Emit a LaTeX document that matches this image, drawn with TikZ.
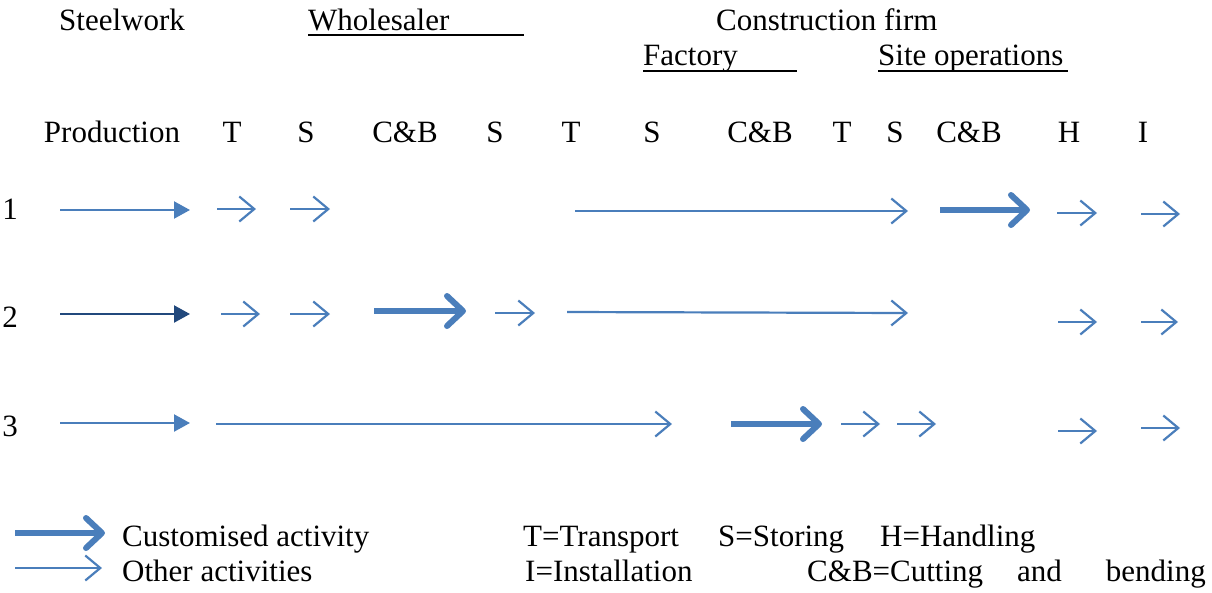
\documentclass[tikz,border=0pt]{standalone}
\usepackage{fontspec}
\setmainfont{Liberation Serif}
\usetikzlibrary{arrows.meta}
\definecolor{actblue}{RGB}{74,126,187}
\definecolor{actdark}{RGB}{33,72,124}
\tikzset{
  other/.style={draw=actblue, line width=2.2pt, -{Straight Barb[length=15pt,width=25pt]}},
  prod/.style={draw=actblue, line width=2.2pt, -{Triangle[length=16pt,width=17pt]}},
  custom/.style={draw=actblue, line width=6pt, -{Straight Barb[length=16pt,width=30pt,round]}},
  lbl/.style={anchor=base, inner sep=0pt, font=\fontsize{31}{36}\selectfont},
  lblw/.style={lbl, anchor=base west},
}
\begin{document}
\begin{tikzpicture}[x=1pt,y=-1pt]
  \useasboundingbox (0,0) rectangle (1212,592);
  \begin{scope}
    \node[lblw] (steel) at (59,30) {Steelwork};
    \node[lblw] (whole) at (308,30) {Wholesaler};
    \node[lblw] (firm) at (716,30) {Construction firm};
    \node[lblw] (factory) at (643,65) {Factory};
    \node[lblw] (site) at (878,65) {Site operations};

    \draw[line width=1.5pt] (308,35) -- (524,35);
    \draw[line width=1.5pt] (643,71) -- (797,71);
    \draw[line width=1.5pt] (878,71) -- (1068,71);

    \node[lbl] (prodn) at (112,142) {Production};
    \node[lbl] (t1) at (232,142) {T};
    \node[lbl] (s1) at (306,142) {S};
    \node[lbl] (cb1) at (405,142) {C\&B};
    \node[lbl] (s2) at (495,142) {S};
    \node[lbl] (t2) at (571,142) {T};
    \node[lbl] (s3) at (652,142) {S};
    \node[lbl] (cb2) at (760,142) {C\&B};
    \node[lbl] (t3) at (842,142) {T};
    \node[lbl] (s4) at (895,142) {S};
    \node[lbl] (cb3) at (969,142) {C\&B};
    \node[lbl] (h) at (1069,142) {H};
    \node[lbl] (i) at (1143,142) {I};

    \node[lbl] (one) at (10,219) {1};
    \node[lbl] (two) at (10,327) {2};
    \node[lbl] (three) at (10,436) {3};

    \draw[prod] (60,210) -- (190,210);
    \draw[other] (217,209) -- (256,209);
    \draw[other] (290,209) -- (330,209);
    \draw[other] (575,211) -- (908,211);
    \draw[custom] (940,210) -- (1030,210);
    \draw[other] (1057,213) -- (1097,213);
    \draw[other] (1141,214) -- (1180,214);

    \draw[prod, draw=actdark, fill=actdark] (60,314) -- (190,314);
    \draw[other] (221,314) -- (260,314);
    \draw[other] (290,314) -- (330,314);
    \draw[custom] (374,311) -- (466,311);
    \draw[other] (495,313) -- (535,313);
    \draw[other] (567,312) -- (908,313);
    \draw[other] (1058,322) -- (1097,322);
    \draw[other] (1141,322) -- (1178,322);

    \draw[prod] (60,423) -- (190,423);
    \draw[other] (216,424) -- (672,424);
    \draw[custom] (731,424) -- (822,424);
    \draw[other] (841,424) -- (880,424);
    \draw[other] (897,424) -- (936,424);
    \draw[other] (1058,431) -- (1097,431);
    \draw[other] (1141,428) -- (1180,428);

    \draw[custom] (15,533) -- (105,533);
    \draw[other] (15,568) -- (102,568);
    \node[lblw] (cust) at (122,546) {Customised activity};
    \node[lblw] (oth) at (122,581) {Other activities};
    \node[lblw] (keyt) at (523,546) {T=Transport};
    \node[lblw] (keys) at (718,546) {S=Storing};
    \node[lblw] (keyh) at (880,546) {H=Handling};
    \node[lblw] (keyi) at (525,581) {I=Installation};
    \node[lblw] (keycb) at (807,581) {C\&B=Cutting};
    \node[lblw] (keyand) at (1017,581) {and};
    \node[lbl, anchor=base east] (keybend) at (1206,581) {bending};
  \end{scope}
\end{tikzpicture}
\end{document}
